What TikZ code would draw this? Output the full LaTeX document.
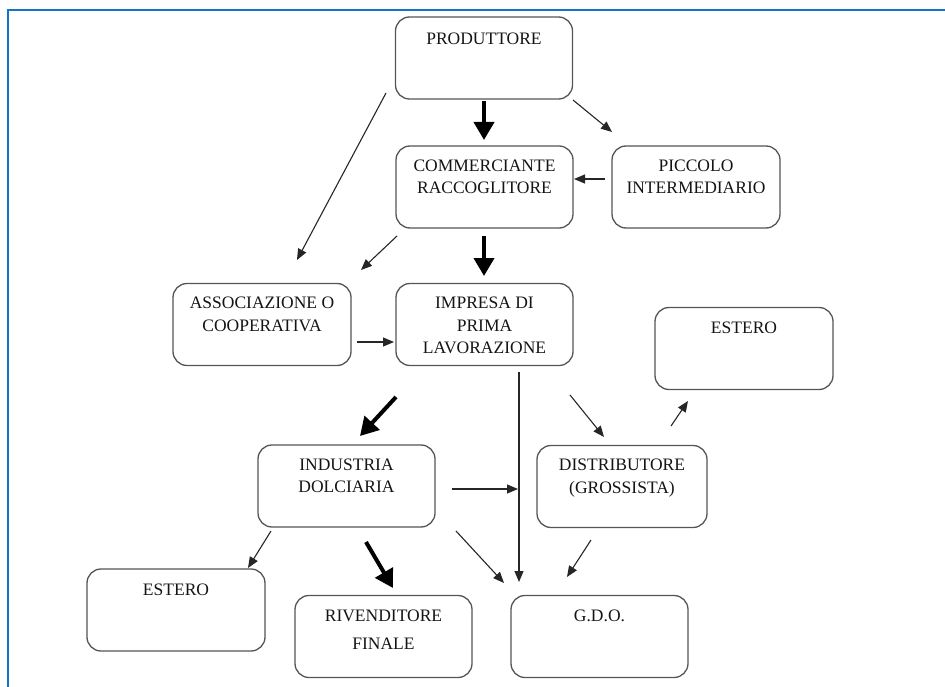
\documentclass[tikz,border=0pt]{standalone}
\usepackage{fontspec}
\setmainfont{Liberation Serif}
\usetikzlibrary{arrows.meta}
\definecolor{frameblue}{RGB}{20,115,200}
\definecolor{boxgray}{RGB}{85,85,85}
\definecolor{txt}{RGB}{20,20,20}
\begin{document}
\begin{tikzpicture}[x=1pt,y=-1pt,
  box/.style={draw=boxgray, line width=1.3pt, rounded corners=14pt, minimum width=#1, minimum height=82pt, inner sep=0pt},
  box/.default=177pt,
  lbl/.style={anchor=north, inner sep=0pt, align=center, text=txt, font=\fontsize{17.5}{22.5}\selectfont},
  thin/.style={draw=black!85, line width=1.1pt, -{Triangle[length=11pt,width=9pt]}},
  thick/.style={draw=black, line width=4pt, -{Triangle[length=18pt,width=20pt]}}]
\useasboundingbox (0,0) rectangle (945,687);
\draw[frameblue, line width=1.6pt] (8,687) -- (8,10) -- (945,10);

% boxes
\node[box] (prod) at (484,58) {};
\node[box] (comm) at (484.5,187) {};
\node[box=168pt] (picc) at (696,187) {};
\node[box=178pt] (assoc) at (262,324.5) {};
\node[box] (impr) at (484.5,324.5) {};
\node[box=178pt] (estR) at (744,348.5) {};
\node[box=170pt] (distr) at (622,486.5) {};
\node[box] (indu) at (346.5,486) {};
\node[box=178pt] (estL) at (176,610) {};
\node[box] (riv) at (383.5,636.5) {};
\node[box] (gdo) at (599.5,636.5) {};

% labels
\node[lbl] (prod-t) at ([yshift=-16pt]prod.north) {PRODUTTORE};
\node[lbl] (comm-t) at ([yshift=-14pt]comm.north) {COMMERCIANTE\\RACCOGLITORE};
\node[lbl] (picc-t) at ([yshift=-14pt]picc.north) {PICCOLO\\INTERMEDIARIO};
\node[lbl] (assoc-t) at ([yshift=-14pt]assoc.north) {ASSOCIAZIONE O\\COOPERATIVA};
\node[lbl] (impr-t) at ([yshift=-14pt]impr.north) {IMPRESA DI\\PRIMA\\LAVORAZIONE};
\node[lbl] (estR-t) at ([yshift=-15pt]estR.north) {ESTERO};
\node[lbl] (distr-t) at ([yshift=-14pt]distr.north) {DISTRIBUTORE\\(GROSSISTA)};
\node[lbl] (indu-t) at ([yshift=-14pt]indu.north) {INDUSTRIA\\DOLCIARIA};
\node[lbl] (estL-t) at ([yshift=-15pt]estL.north) {ESTERO};
\node[lbl] (riv-t) at ([yshift=-15pt]riv.north) {RIVENDITORE\\[5pt]FINALE};
\node[lbl] (gdo-t) at ([yshift=-15pt]gdo.north) {G.D.O.};

% connector end points
\coordinate (a1s) at (484,101);   \coordinate (a1e) at (484,140);
\coordinate (a2s) at (573,100);   \coordinate (a2e) at (612,132);
\coordinate (a3s) at (605,179);   \coordinate (a3e) at (574,179);
\coordinate (a4s) at (386,93);    \coordinate (a4e) at (297,260);
\coordinate (a5s) at (397,236);   \coordinate (a5e) at (361,270);
\coordinate (a6s) at (484,236);   \coordinate (a6e) at (484,276);
\coordinate (a7s) at (357,342);   \coordinate (a7e) at (394,342);
\coordinate (a8s) at (519,372);   \coordinate (a8e) at (519,582);
\coordinate (a9s) at (570,395);   \coordinate (a9e) at (604,437);
\coordinate (a10s) at (671,426);  \coordinate (a10e) at (688,401);
\coordinate (a11s) at (396,397);  \coordinate (a11e) at (360,436);
\coordinate (a12s) at (452,489);  \coordinate (a12e) at (518,489);
\coordinate (a13s) at (271,531);  \coordinate (a13e) at (248,568);
\coordinate (a14s) at (366,542);  \coordinate (a14e) at (393,588);
\coordinate (a15s) at (456,531);  \coordinate (a15e) at (504,583);
\coordinate (a16s) at (591,540);  \coordinate (a16e) at (567,577);

\draw[thick] (a1s) -- (a1e);
\draw[thin] (a2s) -- (a2e);
\draw[thin] (a3s) -- (a3e);
\draw[thin] (a4s) -- (a4e);
\draw[thin] (a5s) -- (a5e);
\draw[thick] (a6s) -- (a6e);
\draw[thin] (a7s) -- (a7e);
\draw[thin] (a8s) -- (a8e);
\draw[thin] (a9s) -- (a9e);
\draw[thin] (a10s) -- (a10e);
\draw[thick] (a11s) -- (a11e);
\draw[thin] (a12s) -- (a12e);
\draw[thin] (a13s) -- (a13e);
\draw[thick] (a14s) -- (a14e);
\draw[thin] (a15s) -- (a15e);
\draw[thin] (a16s) -- (a16e);
\end{tikzpicture}
\end{document}
